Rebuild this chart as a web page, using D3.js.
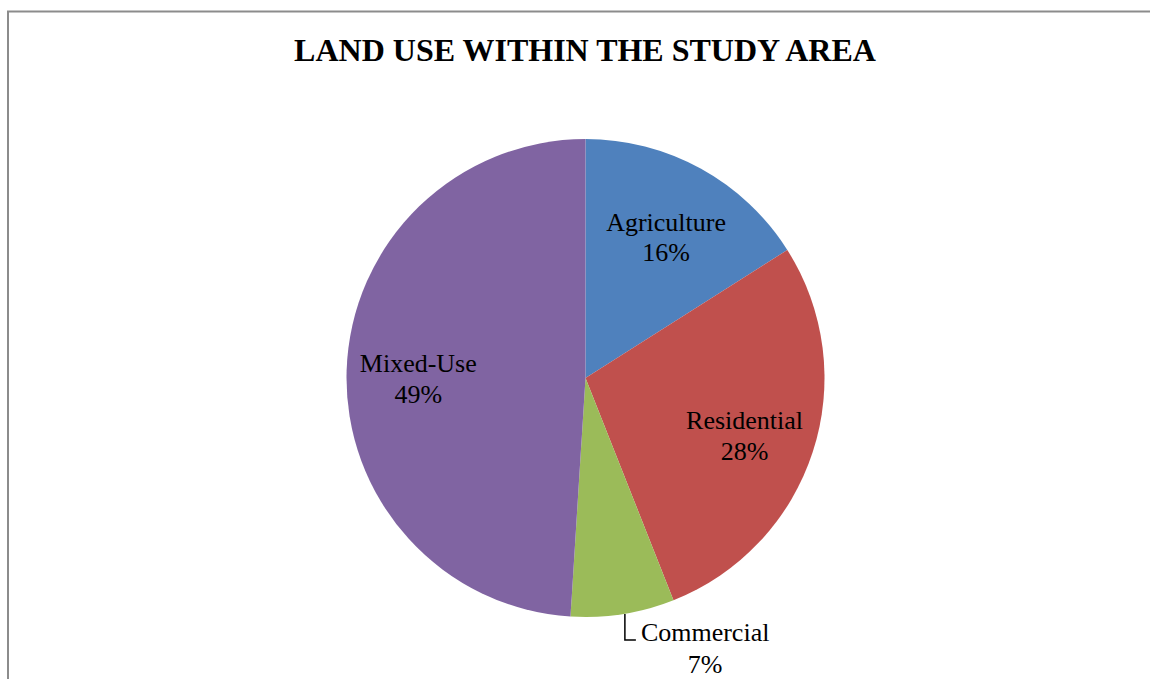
<!DOCTYPE html>
<html>
<head>
<meta charset="utf-8">
<script src="https://cdn.jsdelivr.net/npm/d3@7"></script>
<style>
  html, body { margin: 0; padding: 0; background: #fff; }
  svg { display: block; }
</style>
</head>
<body>
<svg id="chart" width="1150" height="679"></svg>
<script>
// Land use shares (percent of the study area), clockwise from 12 o'clock
const categories = ["Agriculture", "Residential", "Commercial", "Mixed-Use"];
const shares = [16, 28, 7, 49];
const sliceColors = ["#4F81BD", "#C0504D", "#9BBB59", "#8064A2"];
const chartTitle = "LAND USE WITHIN THE STUDY AREA";

const width = 1150, height = 679;
const svg = d3.select("#chart");

// chart frame (only top and left edges fall inside the page)
svg.append("rect")
  .attr("x", 8).attr("y", 11.5)
  .attr("width", 1160).attr("height", 700)
  .attr("fill", "none")
  .attr("stroke", "#8c8c8c")
  .attr("stroke-width", 2);

svg.append("text")
  .attr("x", 585).attr("y", 61)
  .attr("text-anchor", "middle")
  .attr("font-family", "'Liberation Serif', 'Times New Roman', serif")
  .attr("font-weight", "bold")
  .attr("font-size", "32px")
  .attr("fill", "#000")
  .text(chartTitle);

const cx = 585.5, cy = 378, R = 239;
const data = categories.map((c, i) => ({ name: c, value: shares[i], color: sliceColors[i] }));

const pie = d3.pie().value(d => d.value).sort(null);
const arcs = pie(data);
const arc = d3.arc().innerRadius(0).outerRadius(R);

const g = svg.append("g").attr("transform", `translate(${cx},${cy})`);

g.selectAll("path.slice")
  .data(arcs)
  .join("path")
  .attr("class", "slice")
  .attr("d", arc)
  .attr("fill", d => d.data.color);

const total = d3.sum(shares);
const fontFamily = "'Liberation Serif', 'Times New Roman', serif";
const fontSize = 26;
const lineGap = 30.5;
const labelArc = d3.arc().innerRadius(R * 0.7).outerRadius(R * 0.7);

arcs.forEach(a => {
  const pct = Math.round(a.data.value / total * 100) + "%";
  const inside = a.data.value / total >= 0.1;
  if (inside) {
    const [lx, ly] = labelArc.centroid(a);
    const t = g.append("text")
      .attr("font-family", fontFamily)
      .attr("font-size", fontSize + "px")
      .attr("text-anchor", "middle")
      .attr("fill", "#000");
    // two-line label placed just below the label point
    const baseTop = ly - lineGap / 2 + fontSize * 0.33 + 6;
    t.append("tspan").attr("x", lx).attr("y", baseTop).text(a.data.name);
    t.append("tspan").attr("x", lx).attr("y", baseTop + lineGap).text(pct);
  } else {
    // small slice: label outside with an elbow leader
    const mid = (a.startAngle + a.endAngle) / 2;
    const ex = Math.sin(mid) * R + 2, ey = -Math.cos(mid) * R;
    const elbowY = R + 23;
    const elbowX = ex + 11;
    g.append("path")
      .attr("d", `M${ex},${ey}L${ex},${elbowY}L${elbowX},${elbowY}`)
      .attr("fill", "none")
      .attr("stroke", "#000")
      .attr("stroke-width", 1.5);
    const t = g.append("text")
      .attr("font-family", fontFamily)
      .attr("font-size", fontSize + "px")
      .attr("text-anchor", "middle")
      .attr("fill", "#000");
    const probe = g.append("text")
      .attr("font-family", fontFamily)
      .attr("font-size", fontSize + "px")
      .text(a.data.name);
    const w = probe.node().getComputedTextLength();
    probe.remove();
    const tx = elbowX + 5 + w / 2;
    t.append("tspan").attr("x", tx).attr("y", elbowY + 1).text(a.data.name);
    t.append("tspan").attr("x", tx).attr("y", elbowY + 1 + lineGap + 1).text(pct);
  }
});
</script>
</body>
</html>
